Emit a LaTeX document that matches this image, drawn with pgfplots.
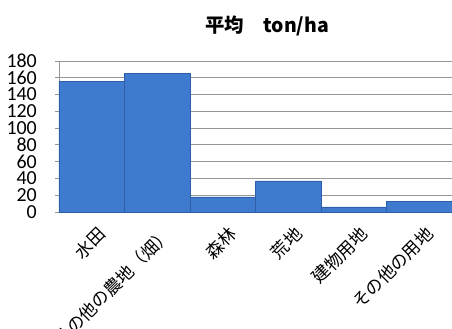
\documentclass[border=0pt]{standalone}
\usepackage{pgfplots}
\pgfplotsset{compat=1.18}
\usepackage{fontspec}
\setmainfont{Carlito}
\newfontfamily\jp{Noto Sans CJK JP}
\definecolor{barblue}{RGB}{62,122,206}
\definecolor{baredge}{RGB}{45,95,170}
\definecolor{gridgray}{RGB}{150,150,150}
\begin{document}
\begin{tikzpicture}
\begin{axis}[
  name=ax,
  scale only axis,
  width=393bp, height=151bp,
  xmin=-0.5, xmax=5.5,
  ymin=0, ymax=180,
  ytick={0,20,...,180},
  ymajorgrids,
  grid style={gridgray, line width=0.8pt},
  axis x line*=bottom,
  axis y line*=left,
  axis line style={gridgray, line width=0.8pt},
  tick style={gridgray, line width=0.8pt},
  tick align=outside,
  major tick length=4bp,
  xtick={0,1,2,3,4,5},
  xticklabels={水田,その他の農地（畑）,森林,荒地,建物用地,その他の用地},
  x tick style={draw=none},
  extra x ticks={-0.5,0.5,1.5,2.5,3.5,4.5,5.5},
  extra x tick labels={},
  extra x tick style={tick style={gridgray, line width=0.8pt}, grid=none},
  xticklabel style={font=\jp\fontsize{17.5}{17.5}\selectfont, xshift=5bp, yshift=-9bp, rotate=45, anchor=north east, inner sep=0pt},
  yticklabel style={font=\fontsize{20}{20}\selectfont, inner sep=0pt, xshift=-18bp},
  /pgf/number format/assume math mode=true,
  ybar, bar width=1, bar shift=0pt,
  clip=false,
]
\addplot[fill=barblue, draw=baredge, line width=0.6pt] coordinates {
  (0,156) (1,165) (2,18) (3,37) (4,6) (5,13)
};
\end{axis}
\node[font=\jp\bfseries\fontsize{19.5}{19.5}\selectfont] at ([xshift=208bp,yshift=35bp]ax.north west) {平均\quad ton/ha};
\pgfresetboundingbox
\path[use as bounding box] ([xshift=-59bp,yshift=-117bp]ax.south west) rectangle ([yshift=61bp]ax.north east);
\end{tikzpicture}
\end{document}
